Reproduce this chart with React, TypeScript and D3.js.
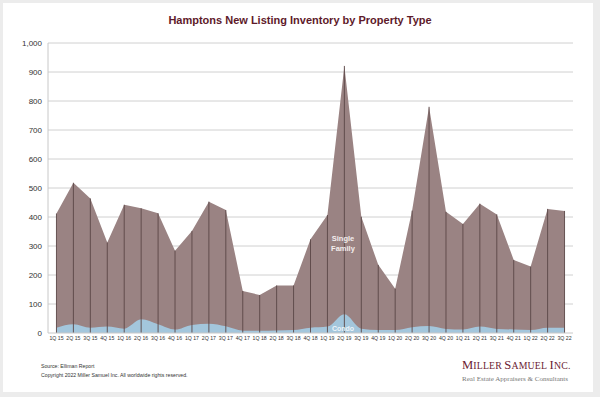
import React from 'react';
import * as d3 from 'd3';

const quarters = [
  '1Q 15', '2Q 15', '3Q 15', '4Q 15', '1Q 16', '2Q 16', '3Q 16', '4Q 16',
  '1Q 17', '2Q 17', '3Q 17', '4Q 17', '1Q 18', '2Q 18', '3Q 18', '4Q 18',
  '1Q 19', '2Q 19', '3Q 19', '4Q 19', '1Q 20', '2Q 20', '3Q 20', '4Q 20',
  '1Q 21', '2Q 21', '3Q 21', '4Q 21', '1Q 22', '2Q 22', '3Q 22',
];
const condo = [
  18, 30, 18, 22, 15, 47, 30, 12, 28, 32, 23, 8, 8, 9, 10, 18,
  22, 65, 15, 10, 10, 20, 24, 14, 12, 22, 14, 12, 10, 18, 18,
];
const total = [
  412, 518, 464, 312, 442, 430, 413, 284, 352, 453, 424, 145, 131, 164, 164, 323,
  407, 921, 401, 235, 153, 422, 780, 418, 376, 446, 409, 252, 229, 428, 421,
];
const singleFamily = total.map((t, i) => t - condo[i]);
const yTicks = [0, 100, 200, 300, 400, 500, 600, 700, 800, 900, 1000];

export default function App() {
  const W = 600, H = 397;
  const left = 48, right = 573, top = 43, bottom = 333;

  const x = d3.scaleBand<string>().domain(quarters).range([left, right]);
  const cx = (i: number) => (x(quarters[i]) as number) + x.bandwidth() / 2;
  const y = d3.scaleLinear().domain([0, 1000]).range([bottom, top]);

  const condoArea = d3.area<number>()
    .x((_, i) => cx(i))
    .y0(y(0))
    .y1(d => y(d))
    .curve(d3.curveMonotoneX);

  const sfArea = d3.area<number>()
    .x((_, i) => cx(i))
    .y0(y(0))
    .y1((d, i) => y(d + condo[i]));

  const fmt = d3.format(',');
  const sans = 'Liberation Sans, Arial, sans-serif';
  const serif = 'Liberation Serif, Times New Roman, serif';

  return (
    <svg width={W} height={H} style={{ position: 'absolute', left: 0, top: 0 }}>
      <rect x={0} y={0} width={W} height={H} fill="#ececec" />
      <rect x={3} y={3} width={590} height={389} fill="#ffffff" />
      <text x={300} y={24} textAnchor="middle" fontFamily={sans}
        fontWeight="bold" fontSize={11} fill="#5e1a2a">
        Hamptons New Listing Inventory by Property Type
      </text>
      {yTicks.map(t => (
        <g key={t}>
          {t > 0 && <line x1={left} x2={right} y1={y(t)} y2={y(t)} stroke="#d0d0d0" strokeWidth={1} />}
          <text x={42} y={y(t) + 3} textAnchor="end" fontFamily={sans}
            fontSize={8} fill="#333">{fmt(t)}</text>
        </g>
      ))}
      <path d={sfArea(singleFamily) as string} fill="#9a8383" />
      <path d={condoArea(condo) as string} fill="#a3c6dc" />
      {total.map((t, i) => (
        <line key={i} x1={cx(i)} x2={cx(i)} y1={y(0)} y2={y(t)} stroke="#5a4646" strokeWidth={0.9} />
      ))}
      <line x1={left} x2={left} y1={top} y2={bottom} stroke="#c8c8c8" />
      <line x1={left} x2={right} y1={bottom} y2={bottom} stroke="#c8c8c8" />
      {quarters.map((q, i) => (
        <text key={q} x={cx(i)} y={340} textAnchor="middle" fontFamily={sans}
          fontSize={5.2} fill="#333">{q}</text>
      ))}
      <text x={343} y={241} textAnchor="middle" fontFamily={sans}
        fontWeight="bold" fontSize={7.5} fill="#f4eeee">Single</text>
      <text x={343} y={251} textAnchor="middle" fontFamily={sans}
        fontWeight="bold" fontSize={7.5} fill="#f4eeee">Family</text>
      <text x={343} y={331} textAnchor="middle" fontFamily={sans}
        fontWeight="bold" fontSize={7} fill="#eef5fa">Condo</text>
      <text x={41} y={368} fontFamily={sans} fontSize={5.2} fill="#333">
        Source: Elliman Report
      </text>
      <text x={41} y={377} fontFamily={sans} fontSize={5.2} fill="#333">
        Copyright 2022 Miller Samuel Inc.  All worldwide rights reserved.
      </text>
      <text x={462} y={369} fontFamily={serif} fontSize={12.6} fill="#6b2232" letterSpacing={0.15}>
        <tspan>M</tspan><tspan fontSize={9.8}>ILLER</tspan><tspan dx={2.5}>S</tspan><tspan fontSize={9.8}>AMUEL</tspan><tspan dx={2.5}>I</tspan><tspan fontSize={9.8}>NC.</tspan>
      </text>
      <text x={462} y={381} fontFamily={serif} fontSize={7}
        fill="#777" textLength={106} lengthAdjust="spacingAndGlyphs">
        Real Estate Appraisers &amp; Consultants
      </text>
    </svg>
  );
}
